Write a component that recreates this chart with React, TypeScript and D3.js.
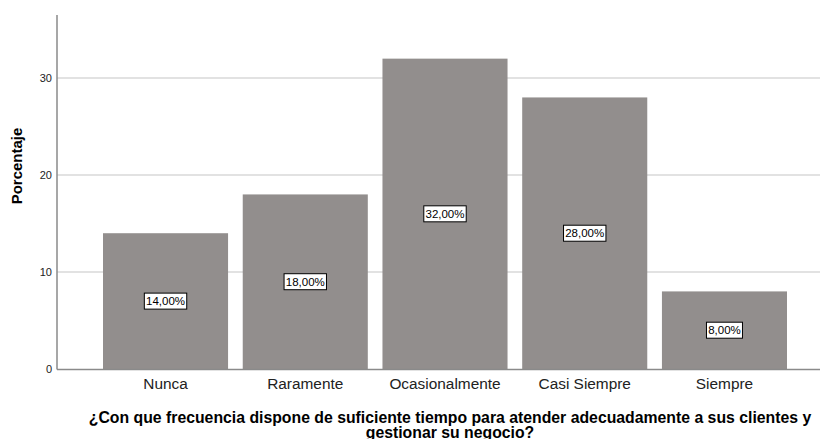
import * as d3 from "d3";

const categories = ["Nunca", "Raramente", "Ocasionalmente", "Casi Siempre", "Siempre"];
const percentages = [14, 18, 32, 28, 8];
const yTicks = [0, 10, 20, 30];
const titleLines = [
  "¿Con que frecuencia dispone de suficiente tiempo para atender adecuadamente a sus clientes y",
  "gestionar su negocio?",
];

const W = 820;
const H = 439;
const font = "Liberation Sans, Arial, sans-serif";

export default function App() {
  const y = d3.scaleLinear().domain([0, 36.5]).range([369, 15]);
  const x = d3.scaleBand<string>().domain(categories).range([103, 787]).paddingInner(0.105).paddingOuter(0);

  return (
    <svg
      width={W}
      height={H}
      style={{ position: "absolute", left: 0, top: 0, background: "#fff" }}
      fontFamily={font}
    >
      {yTicks.filter((t) => t > 0).map((t) => (
        <line key={"g" + t} x1={57} x2={W} y1={y(t)} y2={y(t)} stroke="#d9d9d9" strokeWidth={1.5} />
      ))}
      {categories.map((c, i) => (
        <rect
          key={c}
          x={x(c)}
          y={y(percentages[i])}
          width={x.bandwidth()}
          height={y(0) - y(percentages[i])}
          fill="#928e8d"
        />
      ))}
      <line x1={57} x2={57} y1={15} y2={369.5} stroke="#8a8a8a" strokeWidth={1.5} />
      <line x1={57} x2={W} y1={369.5} y2={369.5} stroke="#8a8a8a" strokeWidth={1.5} />
      {yTicks.map((t) => (
        <text key={"t" + t} x={52} y={y(t)} dy="0.35em" textAnchor="end" fontSize={11} fill="#222">
          {t}
        </text>
      ))}
      {categories.map((c, i) => {
        const cx = (x(c) ?? 0) + x.bandwidth() / 2;
        const cy = y(percentages[i] / 2);
        const label = percentages[i].toFixed(2).replace(".", ",") + "%";
        const w = label.length * 6.4 + 4;
        return (
          <g key={"l" + c}>
            <rect x={cx - w / 2} y={cy - 8} width={w} height={16} fill="#fff" stroke="#000" strokeWidth={1} />
            <text x={cx} y={cy} dy="0.36em" textAnchor="middle" fontSize={11.5} fill="#000">
              {label}
            </text>
            <text x={cx} y={384} dy="0.35em" textAnchor="middle" fontSize={15.4} fill="#222">
              {c}
            </text>
          </g>
        );
      })}
      <text
        transform="translate(22,166) rotate(-90)"
        textAnchor="middle"
        fontSize={15}
        fontWeight="bold"
        fill="#000"
      >
        Porcentaje
      </text>
      {titleLines.map((l, i) => (
        <text key={i} x={450} y={423 + i * 15} textAnchor="middle" fontSize={15.8} fontWeight="bold" fill="#000">
          {l}
        </text>
      ))}
    </svg>
  );
}
